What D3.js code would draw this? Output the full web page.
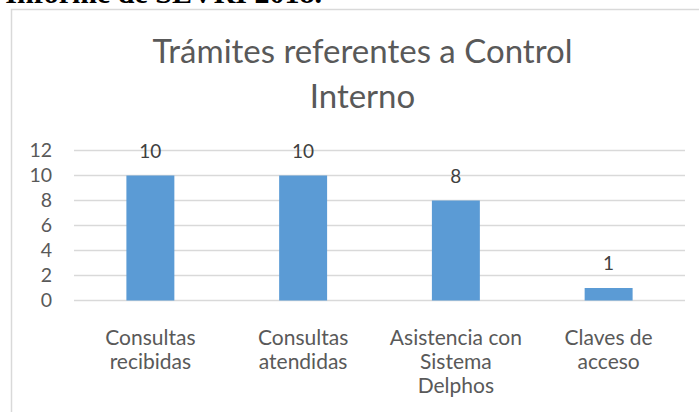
<!DOCTYPE html>
<head>
  <meta charset="utf-8">
  <script src="https://d3js.org/d3.v7.min.js"></script>
  <style>
    body { margin: 0; background: #fff; }
    text { font-family: Lato, "Open Sans", sans-serif; }
  </style>
</head>
<body>
  <div id="chart"></div>
  <script>
    var categories = [["Consultas", "recibidas"], ["Consultas", "atendidas"], ["Asistencia con", "Sistema", "Delphos"], ["Claves de", "acceso"]];
    var values = [10, 10, 8, 1];
    var yTicks = [0, 2, 4, 6, 8, 10, 12];
    var titleLines = ["Trámites referentes a Control", "Interno"];

    var width = 699, height = 412;
    var svg = d3.select("#chart").append("svg")
      .attr("width", width)
      .attr("height", height);

    // heading of the page above the chart, only its lower edge shows
    svg.append("text")
      .attr("x", 322).attr("y", 3)
      .attr("text-anchor", "end")
      .style("font-family", "'Liberation Serif', serif")
      .style("font-weight", "bold")
      .style("font-size", "30px")
      .attr("fill", "#000")
      .text("Informe de SEVRI 2018.");

    // chart frame
    svg.append("rect")
      .attr("x", 11.5).attr("y", 9.5)
      .attr("width", 700).attr("height", 420)
      .attr("fill", "#fff")
      .attr("stroke", "#d9d9d9")
      .attr("stroke-width", 1.5);

    var title = svg.append("text")
      .attr("text-anchor", "middle")
      .attr("fill", "#595959")
      .style("font-size", "33px");
    title.selectAll("tspan").data(titleLines).enter().append("tspan")
      .attr("x", 362.5)
      .attr("y", function(d, i) { return 63 + i * 45 })
      .text(function(d) { return d });

    var x = d3.scaleBand().domain(d3.range(values.length)).range([74, 685]).paddingInner(0.686).paddingOuter(0.343);
    var y = d3.scaleLinear().domain([0, 12]).range([300.5, 150.5]);

    svg.append("g").selectAll("line").data(yTicks).enter().append("line")
      .attr("x1", 74).attr("x2", 685)
      .attr("y1", function(d) { return y(d) }).attr("y2", function(d) { return y(d) })
      .attr("stroke", "#d9d9d9").attr("stroke-width", 1.3);

    var yAxis = svg.append("g")
      .attr("transform", "translate(52,0)")
      .call(d3.axisLeft(y).tickValues(yTicks).tickSize(0).tickPadding(0));
    yAxis.select(".domain").remove();
    yAxis.selectAll("text").attr("fill", "#595959").style("font-size", "19.5px");

    svg.append("g").selectAll("rect").data(values).enter().append("rect")
      .attr("x", function(d, i) { return x(i) })
      .attr("width", x.bandwidth())
      .attr("y", function(d) { return y(d) })
      .attr("height", function(d) { return y(0) - y(d) })
      .attr("fill", "#5b9bd5");

    svg.append("g").selectAll("text").data(values).enter().append("text")
      .attr("x", function(d, i) { return x(i) + x.bandwidth() / 2 })
      .attr("y", function(d) { return y(d) - 18 })
      .attr("text-anchor", "middle")
      .attr("fill", "#404040")
      .style("font-size", "19px")
      .text(function(d) { return d });

    var labels = svg.append("g").selectAll("text").data(categories).enter().append("text")
      .attr("text-anchor", "middle")
      .attr("fill", "#595959")
      .style("font-size", "21px");
    labels.each(function(d, i) {
      d3.select(this).selectAll("tspan").data(d).enter().append("tspan")
        .attr("x", x(i) + x.bandwidth() / 2)
        .attr("y", function(t, j) { return 345 + j * 24 })
        .text(function(t) { return t });
    });
  </script>
</body>
